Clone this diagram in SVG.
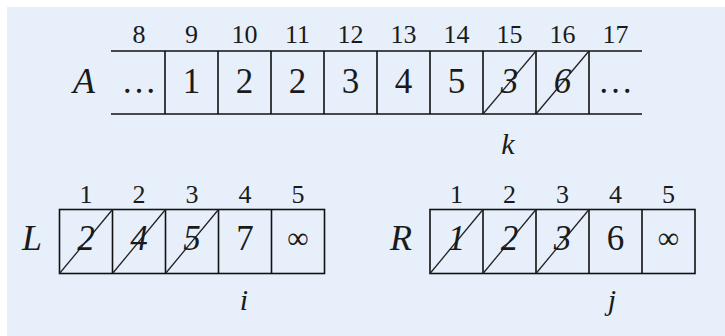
<svg xmlns="http://www.w3.org/2000/svg" width="725" height="336" viewBox="0 0 725 336">
<style>
.ln{stroke:#111;stroke-width:1.6;fill:none}
.dg{stroke:#222;stroke-width:1.3}
.idx{font-family:"Liberation Serif",serif;font-size:26px;fill:#1a1a1a;text-anchor:middle}
.val{font-family:"Liberation Serif",serif;font-size:35px;fill:#1a1a1a;text-anchor:middle}
.x{font-style:italic}
.nm{font-family:"Liberation Serif",serif;font-size:36px;font-style:italic;fill:#1a1a1a;text-anchor:middle}
.ptr{font-family:"Liberation Serif",serif;font-size:30px;font-style:italic;fill:#1a1a1a;text-anchor:middle}
</style>
<rect width="725" height="336" fill="#ffffff"/>
<rect x="7" y="7" width="718" height="329" fill="#e7effa"/>

<g id="arrayA">
  <line class="ln" x1="111" y1="51" x2="642" y2="51"/>
  <line class="ln" x1="111" y1="114" x2="642" y2="114"/>
  <path class="ln" d="M165 51V114M218 51V114M271 51V114M324 51V114M377 51V114M430 51V114M483 51V114M536 51V114M589 51V114"/>
  <line class="dg" x1="483" y1="114" x2="536" y2="51"/>
  <line class="dg" x1="536" y1="114" x2="589" y2="51"/>
  <text class="nm" x="84" y="93">A</text>
  <g class="idx">
    <text x="139" y="43">8</text><text x="191.5" y="43">9</text><text x="244.5" y="43">10</text><text x="297.5" y="43">11</text><text x="350.5" y="43">12</text><text x="403.5" y="43">13</text><text x="456.5" y="43">14</text><text x="509.5" y="43">15</text><text x="562.5" y="43">16</text><text x="615.5" y="43">17</text>
  </g>
  <g class="val">
    <text x="139" y="93">…</text><text x="191.5" y="93">1</text><text x="244.5" y="93">2</text><text x="297.5" y="93">2</text><text x="350.5" y="93">3</text><text x="403.5" y="93">4</text><text x="456.5" y="93">5</text><text class="x" x="509.5" y="93">3</text><text class="x" x="562.5" y="93">6</text><text x="615.5" y="93">…</text>
  </g>
  <text class="ptr" x="508" y="154">k</text>
</g>

<g id="arrayL">
  <rect class="ln" x="59.5" y="209.5" width="265" height="64"/>
  <path class="ln" d="M112.5 209.5V273.5M165.5 209.5V273.5M218.5 209.5V273.5M271.5 209.5V273.5"/>
  <line class="dg" x1="59.5" y1="273.5" x2="112.5" y2="209.5"/>
  <line class="dg" x1="112.5" y1="273.5" x2="165.5" y2="209.5"/>
  <line class="dg" x1="165.5" y1="273.5" x2="218.5" y2="209.5"/>
  <text class="nm" x="32" y="250">L</text>
  <g class="idx">
    <text x="86" y="203">1</text><text x="139" y="203">2</text><text x="192" y="203">3</text><text x="245" y="203">4</text><text x="298" y="203">5</text>
  </g>
  <g class="val">
    <text class="x" x="86" y="250">2</text><text class="x" x="139" y="250">4</text><text class="x" x="192" y="250">5</text><text x="245" y="250">7</text><text x="298" y="248" font-size="30">∞</text>
  </g>
  <text class="ptr" x="244" y="310">i</text>
</g>

<g id="arrayR">
  <rect class="ln" x="430" y="209.5" width="265" height="64"/>
  <path class="ln" d="M483 209.5V273.5M536 209.5V273.5M589 209.5V273.5M642 209.5V273.5"/>
  <line class="dg" x1="430" y1="273.5" x2="483" y2="209.5"/>
  <line class="dg" x1="483" y1="273.5" x2="536" y2="209.5"/>
  <line class="dg" x1="536" y1="273.5" x2="589" y2="209.5"/>
  <text class="nm" x="401" y="250">R</text>
  <g class="idx">
    <text x="456.5" y="203">1</text><text x="509.5" y="203">2</text><text x="562.5" y="203">3</text><text x="615.5" y="203">4</text><text x="668.5" y="203">5</text>
  </g>
  <g class="val">
    <text class="x" x="456.5" y="250">1</text><text class="x" x="509.5" y="250">2</text><text class="x" x="562.5" y="250">3</text><text x="615.5" y="250">6</text><text x="668.5" y="248" font-size="30">∞</text>
  </g>
  <text class="ptr" x="612" y="310">j</text>
</g>
</svg>
